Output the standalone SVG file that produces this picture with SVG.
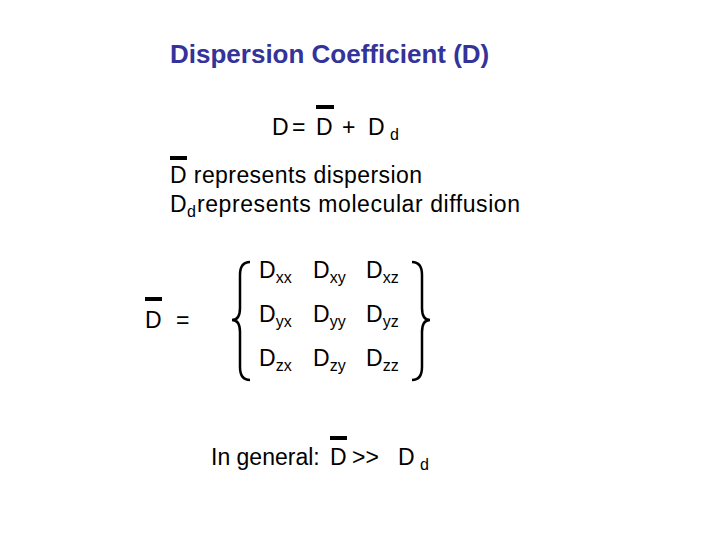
<svg xmlns="http://www.w3.org/2000/svg" width="720" height="540" viewBox="0 0 720 540">
<style>
text{font-family:"Liberation Sans",Arial,sans-serif;font-size:23px;fill:#000}
.t{font-weight:bold;font-size:26px;fill:#333399}
.s{font-size:16px}
.bar{stroke:#000;stroke-width:4}
.br{fill:none;stroke:#000;stroke-width:2.5}
</style>
<rect width="720" height="540" fill="#fff"/>
<g id="title"><text class="t" x="170" y="63">Dispersion Coefficient (D)</text></g>
<g id="eq1">
<text x="272" y="135">D</text><text x="292" y="135">=</text><text x="316" y="135">D</text><text x="342" y="135">+</text><text x="368" y="135">D</text><text class="s" x="390" y="140">d</text>
<line class="bar" x1="316" y1="107" x2="334" y2="107"/>
</g>
<g id="defs-text">
<text x="170" y="183" textLength="252">D represents dispersion</text>
<line class="bar" x1="170" y1="158" x2="187" y2="158"/>
<text x="170" y="212">D</text><text class="s" x="187" y="217">d</text><text x="197" y="212" textLength="323">represents molecular diffusion</text>
</g>
<g id="matrix">
<text x="145" y="328">D</text><text x="176" y="328">=</text>
<line class="bar" x1="145" y1="299" x2="162" y2="299"/>
<path class="br" d="M250,262 Q240,262 240,275 L240,308 Q240,320 232,320 Q240,320 240,332 L240,367 Q240,380 250,380"/>
<path class="br" d="M412,262 Q422,262 422,275 L422,308 Q422,320 430,320 Q422,320 422,332 L422,367 Q422,380 412,380"/>
<text x="259" y="278">D<tspan class="s" dy="5">xx</tspan></text>
<text x="313" y="278">D<tspan class="s" dy="5">xy</tspan></text>
<text x="366" y="278">D<tspan class="s" dy="5">xz</tspan></text>
<text x="259" y="322">D<tspan class="s" dy="5">yx</tspan></text>
<text x="313" y="322">D<tspan class="s" dy="5">yy</tspan></text>
<text x="366" y="322">D<tspan class="s" dy="5">yz</tspan></text>
<text x="259" y="366">D<tspan class="s" dy="5">zx</tspan></text>
<text x="313" y="366">D<tspan class="s" dy="5">zy</tspan></text>
<text x="366" y="366">D<tspan class="s" dy="5">zz</tspan></text>
</g>
<g id="general">
<text x="211" y="465">In general:</text><text x="330" y="465">D</text><text x="352" y="465">&gt;&gt;</text><text x="398" y="465">D</text><text class="s" x="420" y="470">d</text>
<line class="bar" x1="330" y1="438" x2="347" y2="438"/>
</g>
</svg>
